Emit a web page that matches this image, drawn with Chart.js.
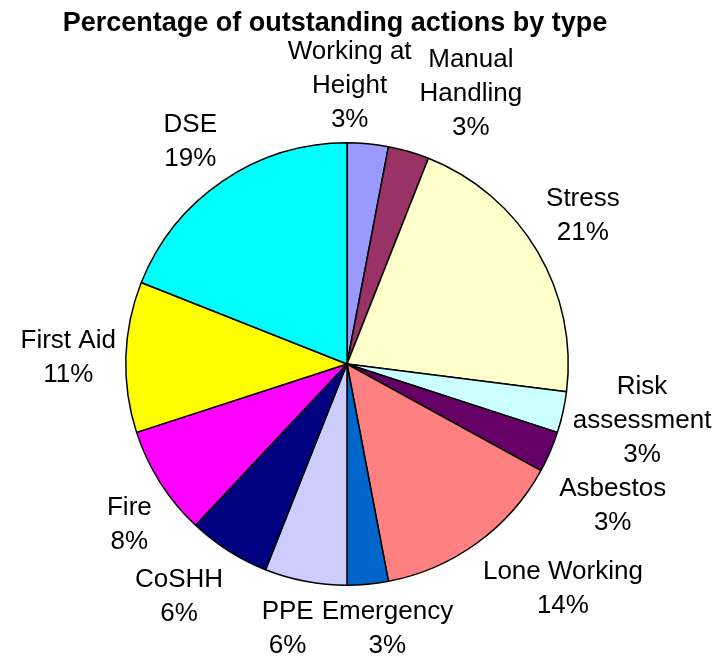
<!DOCTYPE html>
<html>
<head>
<meta charset="utf-8">
<title>Percentage of outstanding actions by type</title>
<script src="https://cdn.jsdelivr.net/npm/chart.js@4.4.0/dist/chart.umd.min.js"></script>
<style>
  body { margin: 0; background: #fff; }
  #wrap { width: 723px; height: 659px; }
</style>
</head>
<body>
<div id="wrap"><canvas id="pieChart" width="723" height="659"></canvas></div>
<script>
// Outstanding actions, clockwise from 12 o'clock
const categories = ["Working at Height", "Manual Handling", "Stress", "Risk assessment", "Asbestos",
  "Lone Working", "Emergency", "PPE", "CoSHH", "Fire", "First Aid", "DSE"];
const percentages = [3, 3, 21, 3, 3, 14, 3, 6, 6, 8, 11, 19];
const sliceColors = ["#9999FF", "#993366", "#FFFFCC", "#CCFFFF", "#660066",
  "#FF8080", "#0066CC", "#CCCCFF", "#000080", "#FF00FF", "#FFFF00", "#00FFFF"];
const chartTitle = "Percentage of outstanding actions by type";

const labelFont = '26px "Liberation Sans", Arial, sans-serif';
const titleFont = 'bold 27px "Liberation Sans", Arial, sans-serif';
const lineHeight = 34;
const wrapWidth = 170;

function clamp(v) {
  return Math.max(-1, Math.min(1, v));
}

// greedy word wrap, like the spreadsheet does for long category names
function wrapText(ctx, text) {
  const words = text.split(" ");
  const lines = [];
  let cur = "";
  words.forEach(w => {
    const test = cur ? cur + " " + w : w;
    if (cur && ctx.measureText(test).width > wrapWidth) {
      lines.push(cur);
      cur = w;
    } else {
      cur = test;
    }
  });
  if (cur) lines.push(cur);
  return lines;
}

// labels sit outside each slice, box corner hooked to the slice's mid angle
const outsideLabels = {
  id: "outsideLabels",
  afterDraw(chart) {
    const ctx = chart.ctx;
    const meta = chart.getDatasetMeta(0);
    ctx.save();
    ctx.font = labelFont;

    const boxes = meta.data.map((arc, i) => {
      const lines = wrapText(ctx, categories[i]).concat(percentages[i] + "%");
      const w = Math.max(...lines.map(l => ctx.measureText(l).width));
      const h = lines.length * lineHeight;
      const mid = (arc.startAngle + arc.endAngle) / 2;
      const dx = Math.cos(mid), dy = Math.sin(mid);
      const r = arc.outerRadius + 10;
      const ax = arc.x + dx * r, ay = arc.y + dy * r;
      return { lines, w, h, x: ax + w / 2 * clamp(2 * dx), y: ay + h / 2 * clamp(2 * dy) };
    });

    // push neighbouring labels apart if they collide
    const pad = 8;
    for (let pass = 0; pass < 4; pass++) {
      for (let i = 0; i < boxes.length; i++) {
        const a = boxes[i], b = boxes[(i + 1) % boxes.length];
        const ox = (a.w + b.w) / 2 + pad - Math.abs(a.x - b.x);
        const oy = (a.h + b.h) / 2 - Math.abs(a.y - b.y);
        if (ox > 0 && oy > 0) {
          if (ox < oy) {
            const s = b.x >= a.x ? 1 : -1;
            a.x -= s * ox / 2;
            b.x += s * ox / 2;
          } else {
            const s = b.y >= a.y ? 1 : -1;
            a.y -= s * oy / 2;
            b.y += s * oy / 2;
          }
        }
      }
    }

    ctx.fillStyle = "#000";
    ctx.textAlign = "center";
    ctx.textBaseline = "alphabetic";
    boxes.forEach(b => {
      b.x = Math.max(b.w / 2, Math.min(chart.width - b.w / 2, b.x));
      b.y = Math.max(b.h / 2, Math.min(chart.height - b.h / 2, b.y));
      const top = b.y - b.h / 2;
      b.lines.forEach((line, j) => {
        ctx.fillText(line, b.x, top + 27.5 + j * lineHeight);
      });
    });

    ctx.font = titleFont;
    ctx.fillText(chartTitle, 335, 31);
    ctx.restore();
  }
};

new Chart(document.getElementById("pieChart"), {
  type: "pie",
  data: {
    labels: categories,
    datasets: [{
      data: percentages,
      backgroundColor: sliceColors,
      borderColor: "#000",
      borderWidth: 1.5,
      hoverOffset: 0
    }]
  },
  options: {
    responsive: false,
    animation: false,
    events: [],
    layout: { padding: { top: 142, bottom: 73, left: 125, right: 154 } },
    plugins: {
      legend: { display: false },
      tooltip: { enabled: false },
      title: { display: false }
    }
  },
  plugins: [outsideLabels]
});
</script>
</body>
</html>
